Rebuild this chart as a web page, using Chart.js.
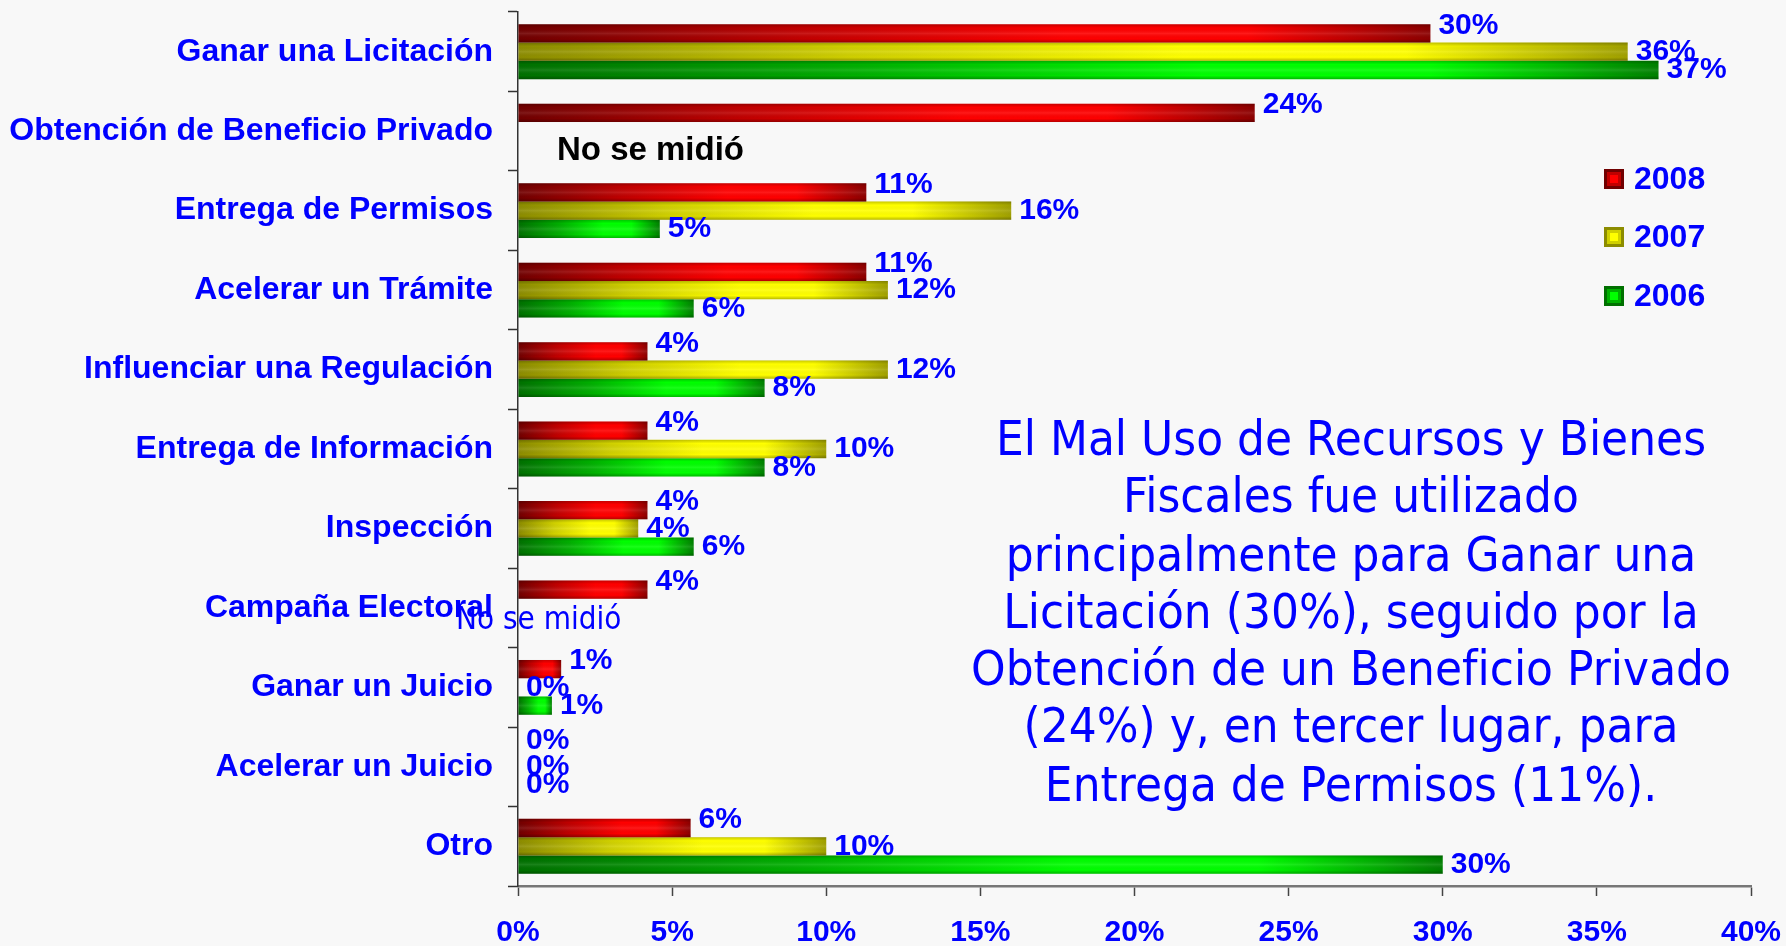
<!DOCTYPE html>
<html lang="es">
<head>
<meta charset="utf-8">
<title>Uso de Recursos y Bienes Fiscales</title>
<script src="https://cdn.jsdelivr.net/npm/chart.js@4.4.1/dist/chart.umd.min.js"></script>
<style>
  html, body { margin: 0; padding: 0; background: #f8f8f8; }
  #wrap { position: relative; width: 1786px; height: 946px; }
  #nota {
    position: absolute; left: 901px; top: 410px; width: 900px;
    text-align: center; color: #0000ff;
    font: 44px/52.3px "DejaVu Sans", Tahoma, sans-serif;
    transform: scaleY(1.1); transform-origin: top center;
  }
</style>
</head>
<body>
<div id="wrap">
  <canvas id="chart" width="1786" height="946"></canvas>
  <div id="nota">El Mal Uso de Recursos y Bienes<br>Fiscales fue utilizado<br>principalmente para Ganar una<br>Licitación (30%), seguido por la<br>Obtención de un Beneficio Privado<br>(24%) y, en tercer lugar, para<br>Entrega de Permisos (11%).</div>
</div>
<script>
// datos
const categorias = [
  "Ganar una Licitación", "Obtención de Beneficio Privado", "Entrega de Permisos",
  "Acelerar un Trámite", "Influenciar una Regulación", "Entrega de Información",
  "Inspección", "Campaña Electoral", "Ganar un Juicio", "Acelerar un Juicio", "Otro"
];
const anios = ["2008", "2007", "2006"];
const valores2008 = [29.6, 23.9, 11.3, 11.3, 4.2, 4.2, 4.2, 4.2, 1.4, 0, 5.6];
const valores2007 = [36.0, null, 16.0, 12.0, 12.0, 10.0, 3.9, null, 0, 0, 10.0];
const valores2006 = [37.0, null, 4.6, 5.7, 8.0, 8.0, 5.7, null, 1.1, 0, 30.0];
const ticksX = [0, 5, 10, 15, 20, 25, 30, 35, 40];
const noMedido = "No se midió";

const AZUL = '#0000ff';
const FUENTE = '"Liberation Sans", Arial, sans-serif';

// colores: oscuro, medio, brillante, final
const tonos = [
  ['#700000', '#c00000', '#ff0000', '#8c0000'],
  ['#8c8c00', '#d0d000', '#ffff00', '#a0a000'],
  ['#007000', '#00b000', '#00ff00', '#008000']
];

function degradado(ctx, i) {
  const chart = ctx.chart;
  const xs = chart.scales.x;
  if (!xs || ctx.raw == null) return tonos[i][2];
  const x0 = xs.getPixelForValue(0);
  const x1 = xs.getPixelForValue(ctx.raw);
  if (!isFinite(x0) || !isFinite(x1) || x1 - x0 < 2) return tonos[i][2];
  const g = chart.ctx.createLinearGradient(x0, 0, x1, 0);
  g.addColorStop(0, tonos[i][0]);
  g.addColorStop(0.3, tonos[i][1]);
  g.addColorStop(0.6, tonos[i][2]);
  g.addColorStop(0.8, tonos[i][2]);
  g.addColorStop(1, tonos[i][3]);
  return g;
}

// sombreado vertical + etiquetas de valores
const etiquetas = {
  id: 'etiquetas',
  afterDatasetsDraw(chart) {
    const c = chart.ctx;
    chart.data.datasets.forEach((ds, di) => {
      const meta = chart.getDatasetMeta(di);
      meta.data.forEach((bar, i) => {
        const v = ds.data[i];
        if (v == null) return;
        const p = bar.getProps(['x', 'y', 'base', 'height'], true);
        const izq = Math.min(p.base, p.x), der = Math.max(p.base, p.x);
        const top = p.y - p.height / 2;
        if (der - izq > 1) {
          const g = c.createLinearGradient(0, top, 0, top + p.height);
          g.addColorStop(0, 'rgba(0,0,0,0.22)');
          g.addColorStop(0.2, 'rgba(0,0,0,0)');
          g.addColorStop(0.5, 'rgba(255,255,255,0.10)');
          g.addColorStop(0.8, 'rgba(0,0,0,0)');
          g.addColorStop(1, 'rgba(0,0,0,0.28)');
          c.save();
          c.fillStyle = g;
          c.fillRect(izq, top, der - izq, p.height);
          c.restore();
        }
        c.save();
        c.font = 'bold 30px ' + FUENTE;
        c.fillStyle = AZUL;
        c.textAlign = 'left';
        c.textBaseline = 'middle';
        const dy = di === 0 ? -8 : 0;
        c.fillText(Math.round(v) + '%', der + 8, p.y + dy);
        c.restore();
      });
    });
  },
  afterDraw(chart) {
    const c = chart.ctx;
    const xs = chart.scales.x, ys = chart.scales.y;
    const x0 = xs.getPixelForValue(0);
    c.save();
    c.textAlign = 'left';
    c.textBaseline = 'middle';
    c.font = 'bold 33px ' + FUENTE;
    c.fillStyle = '#000000';
    c.fillText(noMedido, x0 + 39, ys.getPixelForValue(1) + 20);

    c.save();
    c.translate(x0 - 62, ys.getPixelForValue(7) + 13);
    c.scale(1, 1.15);
    c.font = '28px "DejaVu Sans", Tahoma, sans-serif';
    c.fillStyle = AZUL;
    c.fillText(noMedido, 0, 0);
    c.restore();

    // leyenda
    const ly = [179, 237, 296];
    anios.forEach((a, i) => {
      const x = 1604, y = ly[i] - 10;
      c.fillStyle = tonos[i][0];
      c.fillRect(x, y, 20, 20);
      c.fillStyle = tonos[i][1];
      c.fillRect(x + 3, y + 3, 14, 14);
      c.fillStyle = tonos[i][2];
      c.fillRect(x + 6, y + 6, 8, 8);
      c.font = 'bold 32px ' + FUENTE;
      c.fillStyle = AZUL;
      c.fillText(a, 1634, ly[i] + 1);
    });
    c.restore();
  }
};

const series = [valores2008, valores2007, valores2006];

new Chart(document.getElementById('chart'), {
  type: 'bar',
  data: {
    labels: categorias,
    datasets: series.map((vals, i) => ({
      label: anios[i],
      data: vals,
      backgroundColor: ctx => degradado(ctx, i),
      borderWidth: 0,
      categoryPercentage: 0.69,
      barPercentage: 1.0
    }))
  },
  options: {
    indexAxis: 'y',
    responsive: false,
    animation: false,
    layout: { padding: { top: 12, right: 35, left: 0, bottom: 0 } },
    plugins: {
      legend: { display: false },
      tooltip: { enabled: false }
    },
    scales: {
      x: {
        min: 0, max: 40,
        afterBuildTicks: s => { s.ticks = ticksX.map(v => ({ value: v })); },
        afterFit: s => { s.height = 60; s.paddingLeft = 0; s.paddingRight = 0; },
        grid: { drawOnChartArea: false, tickLength: 10, tickColor: '#444444', tickWidth: 1.5 },
        border: { display: true, color: '#777777', width: 2.5 },
        ticks: {
          padding: 19,
          color: AZUL,
          font: { family: FUENTE, size: 30, weight: 'bold' },
          callback: v => v + '%'
        }
      },
      y: {
        afterFit: s => { s.width = 518; s.paddingTop = 0; s.paddingBottom = 0; },
        grid: { drawOnChartArea: false, tickLength: 10, tickColor: '#333333', tickWidth: 1.5 },
        border: { display: true, color: '#333333', width: 1.5 },
        ticks: {
          padding: 15,
          color: AZUL,
          font: { family: FUENTE, size: 32, weight: 'bold' }
        }
      }
    }
  },
  plugins: [etiquetas]
});
</script>
</body>
</html>
